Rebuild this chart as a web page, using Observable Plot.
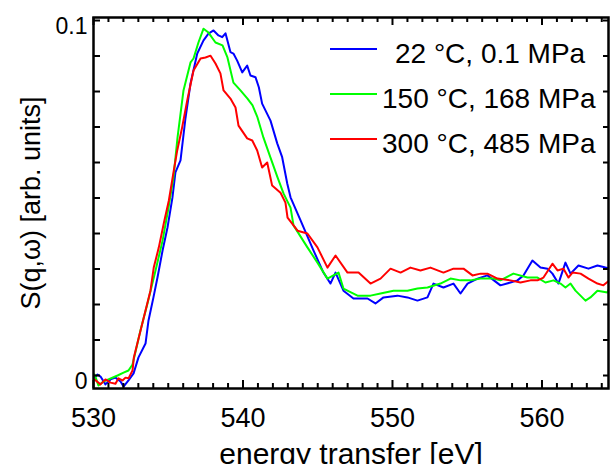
<!DOCTYPE html>
<html>
<head>
<meta charset="utf-8">
<script src="https://cdn.jsdelivr.net/npm/d3@7"></script>
<script src="https://cdn.jsdelivr.net/npm/@observablehq/plot@0.6"></script>
<style>
  html, body { margin: 0; padding: 0; background: #fff; }
  #wrap { position: relative; width: 611px; height: 464px; overflow: hidden; font-family: "Liberation Sans", Arial, sans-serif; }
  #legend { position: absolute; left: 330px; top: 31px; }
  .row { height: 45px; display: flex; align-items: center; font-size: 28px; color: #000; white-space: nowrap; }
  .row svg { display: block; transform: translateY(-5px); }
  .row span { margin-left: 5px; }
  .row:first-child span { margin-left: 18px; }
</style>
</head>
<body>
<div id="wrap"></div>
<script>
// ---- data ----
const seriesNames = ["22 °C, 0.1 MPa", "150 °C, 168 MPa", "300 °C, 485 MPa"];
const seriesColors = ["#0000ff", "#00ff00", "#ff0000"];

const energyBlue = [530.07,530.27,530.47,530.80,531.14,531.47,531.81,532.01,532.34,532.68,533.01,533.48,533.68,534.01,534.28,534.62,534.95,535.28,535.48,535.82,536.15,536.49,536.94,537.36,537.69,538.03,538.36,538.61,538.83,539.16,539.36,539.61,539.95,540.28,540.50,540.84,541.06,541.28,541.84,542.29,542.62,542.96,543.18,543.85,544.72,545.38,545.85,546.19,546.72,547.39,548.33,548.86,549.40,550.33,551.00,551.67,552.34,552.74,553.41,554.08,554.55,555.02,555.69,556.35,557.22,557.89,558.36,558.76,559.36,559.90,560.37,560.70,561.10,561.57,561.91,562.44,563.11,563.71,564.25,564.65];
const sBlue = [-0.0006,0.0003,-0.0003,-0.0025,-0.0011,-0.0006,-0.0017,-0.0031,-0.0014,0.0006,0.0051,0.0090,0.0155,0.0220,0.0276,0.0352,0.0417,0.0501,0.0572,0.0606,0.0724,0.0823,0.0907,0.0944,0.0963,0.0972,0.0958,0.0953,0.0964,0.0911,0.0907,0.0887,0.0854,0.0873,0.0845,0.0840,0.0812,0.0766,0.0718,0.0654,0.0615,0.0541,0.0502,0.0437,0.0352,0.0290,0.0259,0.0290,0.0239,0.0217,0.0217,0.0203,0.0220,0.0225,0.0220,0.0211,0.0220,0.0259,0.0248,0.0259,0.0231,0.0259,0.0273,0.0282,0.0254,0.0262,0.0268,0.0282,0.0324,0.0304,0.0301,0.0287,0.0259,0.0318,0.0287,0.0310,0.0301,0.0310,0.0304,0.0301];

const energyGreen = [530.07,530.33,530.67,531.00,531.61,532.01,532.34,532.61,533.14,533.61,534.15,534.62,535.02,535.35,535.62,536.02,536.49,536.69,537.02,537.36,537.69,538.16,538.63,538.96,539.36,539.83,540.30,540.64,540.97,541.37,541.84,542.31,542.71,543.18,543.38,544.31,544.98,545.65,546.39,546.72,547.66,548.53,549.20,550.07,551.00,551.67,552.34,553.21,553.88,554.55,555.22,555.89,556.76,557.22,558.09,559.03,559.70,560.23,560.77,561.24,561.57,561.91,562.24,562.91,563.24,563.71,564.38,564.65];
const sGreen = [0.0003,-0.0028,-0.0017,-0.0011,0.0000,0.0008,0.0014,0.0031,0.0127,0.0203,0.0296,0.0380,0.0473,0.0558,0.0670,0.0803,0.0882,0.0893,0.0938,0.0977,0.0966,0.0938,0.0930,0.0896,0.0825,0.0803,0.0780,0.0761,0.0727,0.0670,0.0614,0.0558,0.0513,0.0473,0.0423,0.0361,0.0318,0.0273,0.0290,0.0245,0.0225,0.0225,0.0231,0.0239,0.0239,0.0245,0.0248,0.0259,0.0273,0.0268,0.0268,0.0273,0.0273,0.0268,0.0287,0.0276,0.0276,0.0262,0.0268,0.0259,0.0248,0.0259,0.0239,0.0211,0.0220,0.0239,0.0234,0.0259];

const energyRed = [530.07,530.47,530.80,531.14,531.47,531.67,531.94,532.14,532.34,532.61,532.70,533.36,533.81,534.03,534.37,534.70,535.04,535.37,535.60,535.93,536.27,536.69,537.16,537.49,537.83,538.16,538.49,538.70,539.16,539.50,539.70,540.28,540.62,540.95,541.28,541.62,541.95,542.51,542.84,542.98,543.65,544.31,544.98,545.65,546.19,546.99,547.73,548.53,549.20,549.87,550.54,551.20,551.87,552.54,553.41,554.08,554.75,555.35,555.89,556.35,557.02,557.89,558.56,559.23,559.70,560.10,560.70,561.04,561.44,561.77,562.04,562.58,563.11,563.71,564.11,564.65];
const sRed = [-0.0011,-0.0025,-0.0011,-0.0020,-0.0023,-0.0008,-0.0014,-0.0006,-0.0008,0.0014,0.0051,0.0163,0.0239,0.0304,0.0361,0.0428,0.0493,0.0577,0.0634,0.0699,0.0775,0.0859,0.0893,0.0896,0.0901,0.0879,0.0851,0.0803,0.0780,0.0755,0.0704,0.0668,0.0662,0.0634,0.0586,0.0600,0.0535,0.0515,0.0487,0.0445,0.0408,0.0400,0.0361,0.0304,0.0338,0.0290,0.0290,0.0259,0.0273,0.0301,0.0290,0.0304,0.0296,0.0304,0.0290,0.0301,0.0301,0.0282,0.0287,0.0287,0.0273,0.0268,0.0262,0.0268,0.0268,0.0276,0.0315,0.0296,0.0301,0.0276,0.0290,0.0287,0.0273,0.0259,0.0254,0.0273];

const xMajorTicks = [530, 540, 550, 560];
const xMinorTicks = d3.range(531, 565, 1).filter(v => v % 10 !== 0);
const yTicks = d3.range(0, 11).map(i => i / 100);
const yLabelTicks = [0, 0.1];
const yLabelTexts = ["0", "0.1"];
const xTitle = "energy transfer [eV]";
const yTitle = "S(q,\u03c9) [arb. units]";

// ---- layout ----
const W = 611, H = 464;
const mL = 93, mR = 3, mT = 17, mB = 76;
const frameW = W - mL - mR, frameH = H - mT - mB;
const xDomain = [530, 564.45];
const yDomain = [-0.00366, 0.10085];
// pixel lengths of the inward tick marks converted to data units
const xPerPx = (xDomain[1] - xDomain[0]) / frameW;
const yPerPx = (yDomain[1] - yDomain[0]) / frameH;
const minorLen = 5 * yPerPx, majorLen = 8 * yPerPx;
const leftLen = 7 * xPerPx, rightLen = 5 * xPerPx;

// ---- build rows ----
const toRows = (E, S) => E.map((e, i) => ({E: e, S: S[i]}));
const series = [toRows(energyBlue, sBlue), toRows(energyGreen, sGreen), toRows(energyRed, sRed)];

const tk = {stroke: "black", strokeWidth: 2};

const chart = Plot.plot({
  width: W,
  height: H,
  marginLeft: mL,
  marginRight: mR,
  marginTop: mT,
  marginBottom: mB,
  x: {domain: xDomain, label: null},
  y: {domain: yDomain, label: null},
  style: {fontFamily: "'Liberation Sans', Arial, sans-serif", background: "white", color: "black"},
  marks: [
    ...series.map((rows, k) => Plot.line(rows, {x: "E", y: "S", stroke: seriesColors[k], strokeWidth: 2, clip: true})),
    // inward tick marks along the frame
    Plot.ruleX(xMinorTicks, {x: d => d, y1: yDomain[0], y2: yDomain[0] + minorLen, ...tk}),
    Plot.ruleX(xMajorTicks, {x: d => d, y1: yDomain[0], y2: yDomain[0] + majorLen, ...tk}),
    Plot.ruleX(xMinorTicks, {x: d => d, y1: yDomain[1] - minorLen, y2: yDomain[1], ...tk}),
    Plot.ruleX(xMajorTicks, {x: d => d, y1: yDomain[1] - majorLen, y2: yDomain[1], ...tk}),
    Plot.ruleY(yTicks, {y: d => d, x1: xDomain[0], x2: xDomain[0] + leftLen, ...tk}),
    Plot.ruleY(yTicks, {y: d => d, x1: xDomain[1] - rightLen, x2: xDomain[1], ...tk}),
    Plot.frame({stroke: "black", strokeWidth: 2.5}),
    // tick labels
    Plot.axisX({anchor: "bottom", ticks: xMajorTicks, tickSize: 0, tickPadding: 19, fontSize: 27, tickFormat: d => String(d), label: null}),
    Plot.axisY({anchor: "left", ticks: yLabelTicks, tickSize: 0, tickPadding: 6, dy: 6, fontSize: 23, tickFormat: d => yLabelTexts[yLabelTicks.indexOf(d)], label: null}),
    // titles
    Plot.text([xTitle], {frameAnchor: "bottom", textAnchor: "middle", lineAnchor: "middle", dy: 66, fontSize: 30, fill: "black"}),
    Plot.text([yTitle], {frameAnchor: "left", textAnchor: "middle", lineAnchor: "middle", rotate: -90, dx: -62, fontSize: 27, fill: "black"})
  ]
});

const wrap = document.getElementById("wrap");
wrap.appendChild(chart);

// ---- legend ----
const legend = document.createElement("div");
legend.id = "legend";
seriesNames.forEach((name, k) => {
  const row = document.createElement("div");
  row.className = "row";
  row.innerHTML = `<svg width="47" height="4"><line x1="0" x2="47" y1="2" y2="2" stroke="${seriesColors[k]}" stroke-width="2"/></svg><span>${name}</span>`;
  legend.appendChild(row);
});
wrap.appendChild(legend);
</script>
</body>
</html>
